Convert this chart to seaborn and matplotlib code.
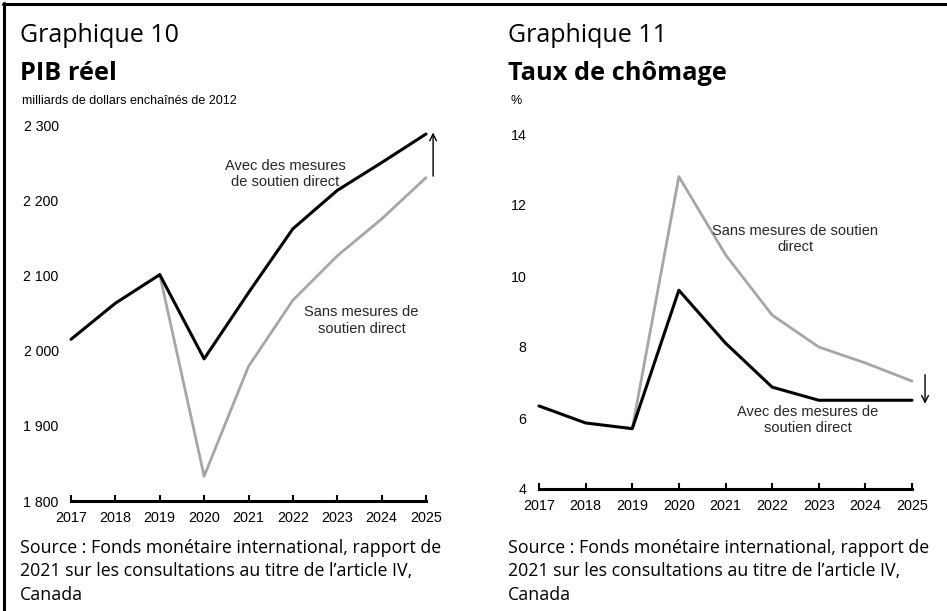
import matplotlib
matplotlib.use("Agg")
import matplotlib.pyplot as plt
import seaborn as sns
import pandas as pd
from matplotlib.lines import Line2D

sns.set_theme(style="white")
plt.rcParams['font.family'] = ['Liberation Sans', 'DejaVu Sans']

# ---- data ----
years = [2017, 2018, 2019, 2020, 2021, 2022, 2023, 2024, 2025]
gdp_with = [2015, 2063, 2101, 1989, 2077, 2162, 2213, 2250, 2288]
gdp_without_years = [2019, 2020, 2021, 2022, 2023, 2024, 2025]
gdp_without = [2101, 1833, 1979, 2067, 2126, 2175, 2230]
unemp_with = [6.34, 5.86, 5.7, 9.6, 8.11, 6.87, 6.5, 6.5, 6.5]
unemp_without_years = [2019, 2020, 2021, 2022, 2023, 2024, 2025]
unemp_without = [5.7, 12.8, 10.6, 8.9, 8.0, 7.55, 7.04]
gdp_ticks = [1800, 1900, 2000, 2100, 2200, 2300]
gdp_ticklabels = ["1 800", "1 900", "2 000", "2 100", "2 200", "2 300"]
unemp_ticks = [4, 6, 8, 10, 12, 14]
unemp_ticklabels = ["4", "6", "8", "10", "12", "14"]

W, H = 947, 611
fig = plt.figure(figsize=(W / 100, H / 100), dpi=100)
fig.patch.set_facecolor("white")

def fx(px):
    return px / W

def fy(py):
    return 1 - py / H

TITLE_FONT = ['Open Sans', 'DejaVu Sans']
BLACK = "#000000"
GRAY = "#A6A6A6"

def make_panel(left, right, bottom, top, ylim, ticks, ticklabels,
               s_with, s_without_years, s_without):
    ax = fig.add_axes([fx(left), fy(bottom), fx(right) - fx(left), fy(top) - fy(bottom)])
    ax.set_facecolor("none")
    df_w = pd.DataFrame({"year": years, "val": s_with})
    df_wo = pd.DataFrame({"year": s_without_years, "val": s_without})
    sns.lineplot(data=df_wo, x="year", y="val", ax=ax, color=GRAY, lw=2.0,
                 clip_on=False)
    sns.lineplot(data=df_w, x="year", y="val", ax=ax, color=BLACK, lw=2.2,
                 clip_on=False)
    ax.set_xlim(years[0], years[-1])
    ax.set_ylim(*ylim)
    ax.set_xticks(years)
    ax.set_xticklabels([str(y) for y in years], fontsize=10.4)
    ax.set_yticks(ticks)
    ax.set_yticklabels(ticklabels, fontsize=10.2)
    ax.set_xlabel("")
    ax.set_ylabel("")
    for s in ["left", "right", "top"]:
        ax.spines[s].set_visible(False)
    ax.spines["bottom"].set_linewidth(2.2)
    ax.spines["bottom"].set_color(BLACK)
    ax.tick_params(axis="x", direction="in", length=4, width=1.5, color=BLACK,
                   pad=7, bottom=True, labelcolor=BLACK)
    ax.tick_params(axis="y", length=0, pad=9, labelcolor=BLACK)
    ax.grid(False)
    return ax

ANN = dict(ha="center", va="center", fontsize=10.5, linespacing=1.2)

# ---- left panel ----
ax1 = make_panel(71, 426, 501, 125, (1800, 2300), gdp_ticks, gdp_ticklabels,
                 gdp_with, gdp_without_years, gdp_without)
ax1.text(2021.82, 2235, "Avec des mesures\nde soutien direct", **ANN)
ax1.text(2023.55, 2040, "Sans mesures de\nsoutien direct", **ANN)
ax1.annotate("", xy=(2025.16, 2290), xytext=(2025.16, 2232),
             arrowprops=dict(arrowstyle="->", lw=1.0, color=BLACK,
                             shrinkA=0, shrinkB=0, mutation_scale=12),
             annotation_clip=False)

# ---- right panel ----
ax2 = make_panel(539, 912, 489, 134, (4, 14), unemp_ticks, unemp_ticklabels,
                 unemp_with, unemp_without_years, unemp_without)
ax2.text(2022.49, 11.04, "Sans mesures de soutien\ndirect", **ANN)
ax2.text(2022.77, 5.94, "Avec des mesures de\nsoutien direct", **ANN)
ax2.annotate("", xy=(2025.28, 6.40), xytext=(2025.28, 7.22),
             arrowprops=dict(arrowstyle="->", lw=1.0, color=BLACK,
                             shrinkA=0, shrinkB=0, mutation_scale=12),
             annotation_clip=False)

# ---- titles & texts ----
for x0, num, title, unit, ux in [(20, "Graphique 10", "PIB réel",
                                  "milliards de dollars enchaînés de 2012", 22),
                                 (508, "Graphique 11", "Taux de chômage", "%", 510)]:
    fig.text(fx(x0), fy(42), num, ha="left", va="baseline", fontsize=18,
             family=TITLE_FONT, color=BLACK)
    fig.text(fx(x0), fy(80), title, ha="left", va="baseline", fontsize=18.3,
             fontweight="bold", family=TITLE_FONT, color=BLACK)
    fig.text(fx(ux), fy(104), unit, ha="left", va="baseline", fontsize=9,
             color=BLACK)
    fig.text(fx(x0), fy(539), "Source : Fonds monétaire international, rapport de\n"
             "2021 sur les consultations au titre de l’article IV,\nCanada",
             ha="left", va="top", fontsize=12.8, family=TITLE_FONT,
             linespacing=1.38, color=BLACK)

# ---- frame lines (top and left) ----
fig.add_artist(Line2D([fx(3), 1], [fy(4), fy(4)], color=BLACK, lw=2.2))
fig.add_artist(Line2D([fx(4), fx(4)], [fy(3), 0], color=BLACK, lw=2.2))

fig.savefig("out.png", dpi=100, facecolor="white")
